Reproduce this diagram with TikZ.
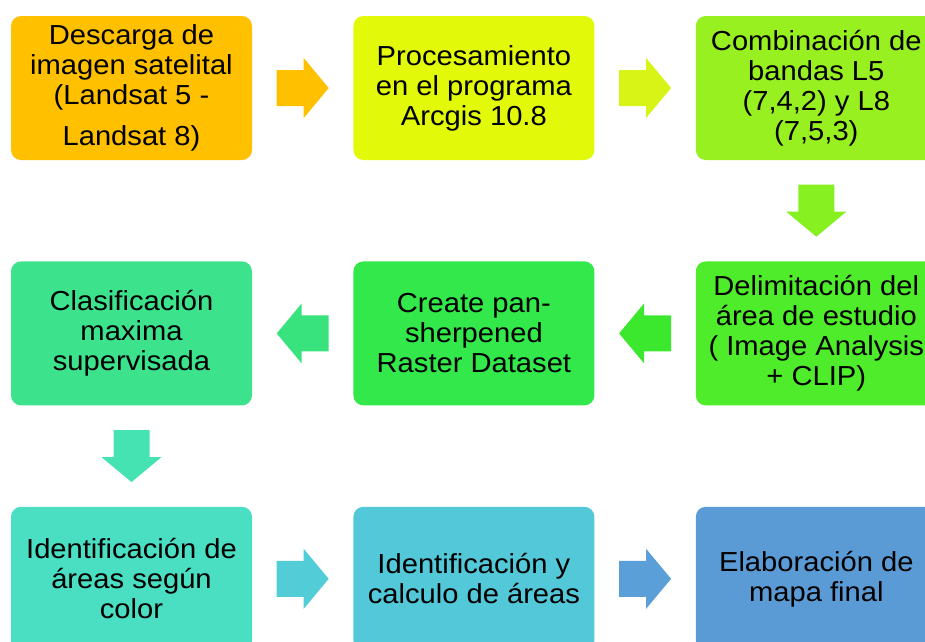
\documentclass[tikz,border=0pt]{standalone}
\usepackage{fontspec}
\setmainfont{Liberation Sans}[FakeStretch=1.06]
\usetikzlibrary{positioning,calc}
\definecolor{boxA}{HTML}{FFC000}
\definecolor{boxB}{HTML}{E2F90A}
\definecolor{boxC}{HTML}{98F020}
\definecolor{boxD}{HTML}{4EEC2A}
\definecolor{boxE}{HTML}{33E84A}
\definecolor{boxF}{HTML}{3DE38C}
\definecolor{boxG}{HTML}{4ADEC2}
\definecolor{boxH}{HTML}{53C8D9}
\definecolor{boxI}{HTML}{5B9BD5}
\definecolor{arrA}{HTML}{FFC000}
\definecolor{arrB}{HTML}{D8F416}
\definecolor{arrC}{HTML}{86F020}
\definecolor{arrD}{HTML}{3CE82E}
\definecolor{arrE}{HTML}{38E27C}
\definecolor{arrF}{HTML}{46E3B2}
\definecolor{arrG}{HTML}{52CDD8}
\definecolor{arrH}{HTML}{5A9FD7}
\tikzset{
    %Define style for the process boxes
    stepbox/.style={
             rectangle, rounded corners=10pt,
             fill=#1, inner sep=0pt,
             minimum width=241pt, minimum height=144pt,
             align=center,
             font=\fontsize{27.5}{30}\selectfont},
    %Define the block arrow between boxes
    blockarrow/.pic={
            \fill[pic actions] (-26,-18) -- (1,-18) -- (1,-30) -- (26,0)
                 -- (1,30) -- (1,18) -- (-26,18) -- cycle;}
}
\begin{document}
\begin{tikzpicture}[x=1pt, y=-1pt, node distance=101pt]
 \clip (0,0) rectangle (925,641);
 \node[stepbox=boxA] (descarga) at (131.5,88) {Descarga de\\imagen satelital\\(Landsat 5 -\\[11pt]Landsat 8)};
 \node[stepbox=boxB, right=of descarga] (proceso) {Procesamiento\\en el programa\\Arcgis 10.8};
 \node[stepbox=boxC, right=of proceso] (bandas) {Combinación de\\bandas L5\\(7,4,2) y L8\\(7,5,3)};
 \node[stepbox=boxD, below=of bandas] (delimita) {Delimitación del\\área de estudio\\( Image Analysis\\+ CLIP)};
 \node[stepbox=boxE, left=of delimita] (pansharp) {Create pan-\\sherpened\\Raster Dataset};
 \node[stepbox=boxF, left=of pansharp] (clasifica) {Clasificación\\maxima\\supervisada};
 \node[stepbox=boxG, below=of clasifica] (segcolor) {Identificación de\\áreas según\\color};
 \node[stepbox=boxH, right=of segcolor] (calculo) {Identificación y\\calculo de áreas};
 \node[stepbox=boxI, right=of calculo] (mapa) {Elaboración de\\mapa final};
 \pic[fill=arrA] at ($(descarga.east)!0.5!(proceso.west)$) {blockarrow};
 \pic[fill=arrB] at ($(proceso.east)!0.5!(bandas.west)$) {blockarrow};
 \pic[fill=arrC, rotate=-90] at ($(bandas.south)!0.5!(delimita.north)$) {blockarrow};
 \pic[fill=arrD, rotate=180] at ($(delimita.west)!0.5!(pansharp.east)$) {blockarrow};
 \pic[fill=arrE, rotate=180] at ($(pansharp.west)!0.5!(clasifica.east)$) {blockarrow};
 \pic[fill=arrF, rotate=-90] at ($(clasifica.south)!0.5!(segcolor.north)$) {blockarrow};
 \pic[fill=arrG] at ($(segcolor.east)!0.5!(calculo.west)$) {blockarrow};
 \pic[fill=arrH] at ($(calculo.east)!0.5!(mapa.west)$) {blockarrow};
\end{tikzpicture}
\end{document}
